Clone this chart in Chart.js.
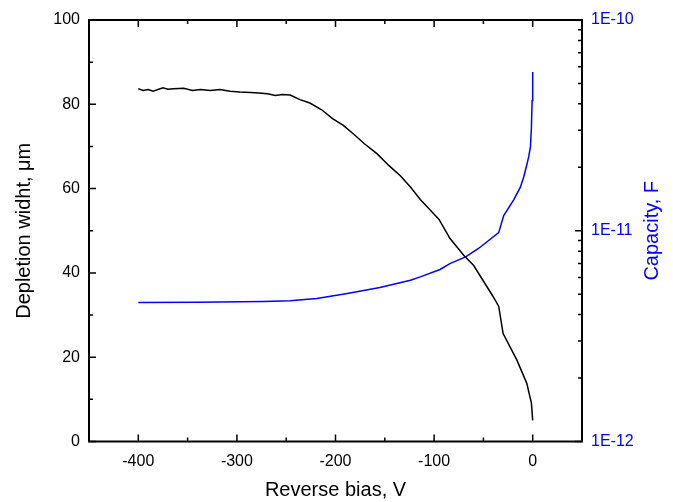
<!DOCTYPE html>
<html>
<head>
<meta charset="utf-8">
<script src="https://cdn.jsdelivr.net/npm/chart.js@4.4.0/dist/chart.umd.min.js"></script>
<style>
  body { margin: 0; background: #fff; }
  canvas { display: block; }
</style>
</head>
<body>
<canvas id="cvChart" width="673" height="502"></canvas>
<script>
// Depletion width vs reverse bias (left axis, um)
const biasWidth = [-400, -395, -390, -385, -380, -375, -370, -364, -354, -345, -337, -327, -317, -307, -297,
    -286, -278, -269, -261, -254, -246, -236, -226, -214, -203, -192, -180, -171, -158, -146, -134,
    -124, -114, -104, -95, -84, -70, -60, -41, -34.5, -30, -16, -6, -1.3, 0];
const depletionWidth = [83.7, 83.3, 83.5, 83.1, 83.5, 83.9, 83.6, 83.7, 83.8, 83.3, 83.5, 83.3, 83.5, 83.1, 82.9,
    82.8, 82.7, 82.5, 82.1, 82.3, 82.2, 81.1, 80.3, 78.7, 76.6, 75.0, 72.6, 70.7, 68.3, 65.5, 63.0,
    60.4, 57.4, 54.9, 52.7, 48.2, 44.2, 41.8, 34.7, 32.1, 25.6, 19.3, 13.8, 9.1, 5.0];

// Capacity vs reverse bias (right axis, F, log)
const biasCap = [-400, -341, -273, -246, -219, -188, -155, -124, -114, -94, -83.5, -68, -55, -34.5,
    -29.4, -19.3, -12.5, -9.1, -5.7, -4.1, -2.3, -1.3, -0.6, 0];
const capacity = [4.57e-12, 4.58e-12, 4.62e-12, 4.65e-12, 4.77e-12, 5.04e-12, 5.38e-12, 5.82e-12, 6.04e-12,
    6.55e-12, 7.0e-12, 7.51e-12, 8.24e-12, 9.8e-12, 1.18e-11, 1.40e-11, 1.61e-11, 1.80e-11, 2.08e-11,
    2.24e-11, 2.5e-11, 3.1e-11, 4.15e-11, 5.66e-11];

const xTicks = [-400, -300, -200, -100, 0];
const widthTicks = [0, 20, 40, 60, 80, 100];
const capTicks = [1e-12, 1e-11, 1e-10];

const FONT = '"Liberation Sans", Arial, sans-serif';
const BLUE = '#0000ff';

// inward ticks on all four sides, the frame and the right-hand title
const frameTicks = {
    id: 'frameTicks',
    afterDraw(chart) {
        const ctx = chart.ctx;
        const a = chart.chartArea;
        const sx = chart.scales.x, sy = chart.scales.y, sy2 = chart.scales.y2;
        ctx.save();
        ctx.strokeStyle = '#000';
        ctx.lineWidth = 1.5;
        ctx.beginPath();

        const minorX = [];
        for (let i = 0; i < xTicks.length - 1; i++) minorX.push((xTicks[i] + xTicks[i + 1]) / 2);
        minorX.push(xTicks[0] - 50, xTicks[xTicks.length - 1] + 50);
        xTicks.forEach(v => {
            const px = sx.getPixelForValue(v);
            ctx.moveTo(px, a.bottom); ctx.lineTo(px, a.bottom - 7);
            ctx.moveTo(px, a.top); ctx.lineTo(px, a.top + 7);
        });
        minorX.forEach(v => {
            const px = sx.getPixelForValue(v);
            if (px <= a.left + 1 || px >= a.right - 1) return;
            ctx.moveTo(px, a.bottom); ctx.lineTo(px, a.bottom - 4);
            ctx.moveTo(px, a.top); ctx.lineTo(px, a.top + 4);
        });

        widthTicks.forEach((v, i) => {
            const py = sy.getPixelForValue(v);
            ctx.moveTo(a.left, py); ctx.lineTo(a.left + 7, py);
            if (i < widthTicks.length - 1) {
                const pm = sy.getPixelForValue((v + widthTicks[i + 1]) / 2);
                ctx.moveTo(a.left, pm); ctx.lineTo(a.left + 4, pm);
            }
        });

        capTicks.forEach((v, i) => {
            const py = sy2.getPixelForValue(v);
            ctx.moveTo(a.right, py); ctx.lineTo(a.right - 7, py);
            if (i < capTicks.length - 1) {
                for (let k = 2; k <= 9; k++) {
                    const pm = sy2.getPixelForValue(v * k);
                    ctx.moveTo(a.right, pm); ctx.lineTo(a.right - 4, pm);
                }
            }
        });
        ctx.stroke();

        ctx.lineWidth = 2;
        ctx.strokeRect(a.left, a.top, a.right - a.left, a.bottom - a.top);

        ctx.fillStyle = BLUE;
        ctx.font = '20px ' + FONT;
        ctx.textAlign = 'center';
        ctx.textBaseline = 'middle';
        ctx.translate(652, (a.top + a.bottom) / 2);
        ctx.rotate(-Math.PI / 2);
        ctx.fillText('Capacity, F', 0, 0);
        ctx.restore();
    }
};

const ctx = document.getElementById('cvChart').getContext('2d');
new Chart(ctx, {
    type: 'line',
    data: {
        datasets: [{
            label: 'Depletion width',
            data: biasWidth.map((b, i) => ({ x: b, y: depletionWidth[i] })),
            borderColor: '#000',
            borderWidth: 1.5,
            pointRadius: 0,
            yAxisID: 'y'
        }, {
            label: 'Capacity',
            data: biasCap.map((b, i) => ({ x: b, y: capacity[i] })),
            borderColor: BLUE,
            borderWidth: 1.5,
            pointRadius: 0,
            yAxisID: 'y2'
        }]
    },
    options: {
        responsive: false,
        animation: false,
        devicePixelRatio: 1,
        layout: { padding: { top: 20, left: 0, right: 0, bottom: 0 } },
        plugins: {
            legend: { display: false },
            tooltip: { enabled: false }
        },
        scales: {
            x: {
                type: 'linear',
                min: -450,
                max: 50,
                afterBuildTicks: s => { s.ticks = xTicks.map(v => ({ value: v })); },
                afterFit: s => { s.height = 60.5; },
                grid: { display: false, drawTicks: false },
                border: { display: false },
                ticks: { color: '#000', padding: 10, font: { family: FONT, size: 16 } },
                title: {
                    display: true,
                    text: 'Reverse bias, V',
                    color: '#000',
                    padding: { top: 0, bottom: 0 },
                    font: { family: FONT, size: 20 }
                }
            },
            y: {
                type: 'linear',
                position: 'left',
                min: 0,
                max: 100,
                afterBuildTicks: s => { s.ticks = widthTicks.map(v => ({ value: v })); },
                afterFit: s => { s.width = 89; },
                grid: { display: false, drawTicks: false },
                border: { display: false },
                ticks: { color: '#000', padding: 9, font: { family: FONT, size: 16 } },
                title: {
                    display: true,
                    text: 'Depletion widht, μm',
                    color: '#000',
                    padding: { top: 12, bottom: 0 },
                    font: { family: FONT, size: 20 }
                }
            },
            y2: {
                type: 'logarithmic',
                position: 'right',
                min: 1e-12,
                max: 1e-10,
                afterBuildTicks: s => { s.ticks = capTicks.map(v => ({ value: v })); },
                afterFit: s => { s.width = 91; },
                grid: { display: false, drawTicks: false },
                border: { display: false },
                ticks: {
                    color: BLUE,
                    padding: 9,
                    font: { family: FONT, size: 16 },
                    callback: v => '1E' + Math.round(Math.log10(v))
                }
            }
        }
    },
    plugins: [frameTicks]
});
</script>
</body>
</html>
